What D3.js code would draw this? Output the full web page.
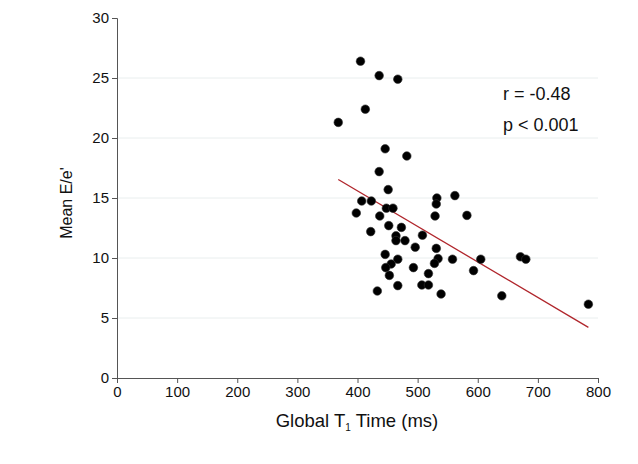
<!DOCTYPE html>
<html>
<head>
<meta charset="utf-8">
<script src="https://cdn.jsdelivr.net/npm/d3@7"></script>
<style>
  body { margin: 0; background: #fff; }
  svg { font-family: 'Liberation Sans', Arial, Helvetica, sans-serif; }
</style>
</head>
<body>
<svg class="scatter" width="638" height="464"></svg>
<script>
// Global T1 time (ms) vs mean E/e'
const t1Time = [405, 436, 467, 413, 368, 446, 482, 436, 451, 532,
                562, 407, 423, 531, 398, 437, 448, 459, 529, 582,
                422, 452, 473, 464, 464, 479, 508, 496, 531, 446,
                467, 456, 447, 493, 534, 528, 558, 605, 593, 518,
                453, 467, 507, 518, 433, 539, 640, 671, 680, 784];
const meanEe = [26.4, 25.2, 24.9, 22.4, 21.3, 19.1, 18.5, 17.2, 15.7, 15.0,
                15.2, 14.75, 14.75, 14.5, 13.75, 13.5, 14.15, 14.15, 13.5, 13.55,
                12.2, 12.7, 12.55, 11.85, 11.45, 11.45, 11.9, 10.9, 10.8, 10.3,
                9.9, 9.5, 9.2, 9.2, 9.95, 9.55, 9.9, 9.9, 8.95, 8.7,
                8.55, 7.7, 7.75, 7.75, 7.25, 7.0, 6.85, 10.1, 9.9, 6.15];

// fitted line (as drawn in the figure)
const fitSlope = -0.0296;
const fitIntercept = 27.43;
const statLines = ['r = -0.48', 'p < 0.001'];

const xTicks = [0, 100, 200, 300, 400, 500, 600, 700, 800];
const yTicks = [0, 5, 10, 15, 20, 25, 30];

const margin = {top: 18, right: 40, bottom: 86, left: 117},
      width = 598 - margin.left,
      height = 378 - margin.top;

const x = d3.scaleLinear().domain([0, 800]).range([0, width]);
const y = d3.scaleLinear().domain([0, 30]).range([height, 0]);

const svg = d3.select('svg.scatter').append('g')
              .attr('transform', `translate(${margin.left}, ${margin.top})`);

// light horizontal grid
svg.append('g')
  .selectAll('line')
  .data(yTicks.filter(d => d > 0 && d < 30))
  .enter()
  .append('line')
    .attr('x1', 0)
    .attr('x2', width)
    .attr('y1', d => y(d))
    .attr('y2', d => y(d))
    .style('stroke', '#e9eeee')
    .style('stroke-width', 1);

const xAxis = svg.append('g')
  .attr('transform', `translate(0, ${height})`)
  .call(d3.axisBottom(x).tickValues(xTicks).tickSize(5).tickPadding(3));

const yAxis = svg.append('g')
  .call(d3.axisLeft(y).tickValues(yTicks).tickSize(5).tickPadding(3));

[xAxis, yAxis].forEach(a => {
  a.select('.domain').style('stroke', '#555');
  a.selectAll('.tick line').style('stroke', '#555');
  a.selectAll('text')
    .style('font-size', '15px')
    .style('fill', '#111')
    .style('font-family', "'Liberation Sans', Arial, sans-serif");
});

// regression line across the data range
const xExt = d3.extent(t1Time);
svg.append('line')
  .attr('x1', x(xExt[0]))
  .attr('y1', y(fitIntercept + fitSlope * xExt[0]))
  .attr('x2', x(xExt[1]))
  .attr('y2', y(fitIntercept + fitSlope * xExt[1]))
  .style('stroke', '#b0262c')
  .style('stroke-width', 1.3);

svg.append('g')
  .selectAll('circle')
  .data(t1Time.map((d, i) => [d, meanEe[i]]))
  .enter()
  .append('circle')
    .attr('cx', d => x(d[0]))
    .attr('cy', d => y(d[1]))
    .attr('r', 4.3)
    .style('fill', '#000')
    .style('stroke', '#333')
    .style('stroke-width', 0.6);

svg.selectAll('text.stat')
  .data(statLines)
  .enter()
  .append('text')
    .attr('class', 'stat')
    .attr('x', 386)
    .attr('y', (d, i) => 82 + i * 31)
    .text(d => d)
    .style('font-size', '18px')
    .style('fill', '#111');

// axis titles
svg.append('text')
  .attr('transform', `translate(-45, ${height / 2 + 5}) rotate(-90)`)
  .style('text-anchor', 'middle')
  .style('font-size', '16px')
  .style('fill', '#111')
  .text("Mean E/e'");

const xTitle = svg.append('text')
  .attr('x', 240)
  .attr('y', height + 49)
  .style('text-anchor', 'middle')
  .style('font-size', '18.5px')
  .style('fill', '#111');
xTitle.append('tspan').text('Global T');
xTitle.append('tspan').text('1').attr('dy', 4).style('font-size', '10px');
xTitle.append('tspan').text(' Time (ms)').attr('dy', -4);
</script>
</body>
</html>
